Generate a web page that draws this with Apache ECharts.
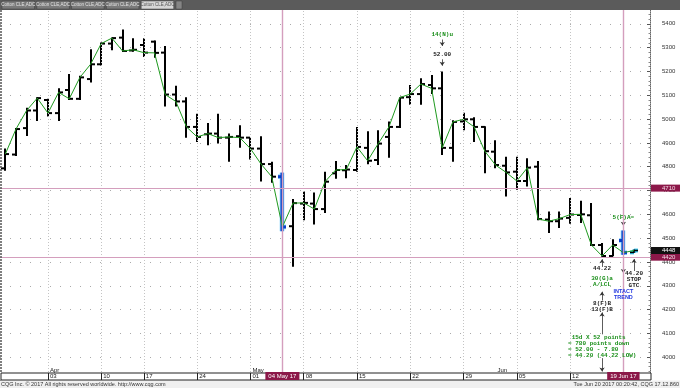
<!DOCTYPE html>
<html><head><meta charset="utf-8">
<script src="https://cdn.jsdelivr.net/npm/echarts@6/dist/echarts.min.js"></script>
<style>html,body{margin:0;padding:0;background:#fff}#c{width:680px;height:388px}</style>
</head><body><div id="c"></div>
<script>
const categories = ['Mar 28','Mar 29','Mar 30','Mar 31','Apr 03','Apr 04','Apr 05','Apr 06','Apr 07','Apr 10','Apr 11','Apr 12','Apr 13','Apr 17','Apr 18','Apr 19','Apr 20','Apr 21','Apr 24','Apr 25','Apr 26','Apr 27','Apr 28','May 01','May 02','May 03','May 04','May 05','May 08','May 09','May 10','May 11','May 12','May 15','May 16','May 17','May 18','May 19','May 22','May 23','May 24','May 25','May 26','May 29','May 30','May 31','Jun 01','Jun 02','Jun 05','Jun 06','Jun 07','Jun 08','Jun 09','Jun 12','Jun 13','Jun 14','Jun 15','Jun 16','Jun 19','Jun 20','Jun 21'];
const opens  = [4793,4851,4962,5036,5080,5025,5122,5085,5168,5230,5317,5342,5288,5311,5325,5279,5103,5074,4967,4936,4939,4922,4928,4922,4876,4811,4758,4550,4645,4645,4622,4772,4785,4786,4879,4828,4925,4967,5092,5105,5143,5129,4879,4990,4999,4967,4863,4804,4779,4740,4800,4578,4571,4585,4597,4596,4471,4425,4490,4440];
const highs  = [4876,4962,5047,5092,5085,5129,5189,5182,5293,5321,5342,5376,5339,5339,5330,5307,5140,5092,5022,4983,5022,4939,4974,4925,4928,4821,4775,4664,4696,4692,4779,4824,4807,4967,4949,4953,4990,5092,5143,5171,5185,5200,4995,5026,5008,4970,4911,4842,4842,4835,4824,4612,4612,4668,4657,4647,4480,4495,4532,4452];
const lows   = [4783,4845,4929,4992,5011,4992,5080,5080,5154,5225,5289,5282,5283,5261,5258,5053,5053,4922,4904,4890,4897,4821,4880,4830,4738,4733,4529,4380,4575,4557,4605,4749,4751,4779,4810,4807,4838,4962,5060,5060,5105,4849,4821,4953,4904,4772,4793,4675,4703,4717,4575,4522,4543,4560,4564,4467,4422,4424,4430,4438];
const closes = [4853,4958,5036,5088,5025,5112,5085,5175,5230,5317,5340,5286,5291,5279,5278,5103,5074,4967,4925,4939,4922,4925,4922,4876,4811,4758,4547,4647,4648,4622,4737,4786,4788,4883,4825,4897,4967,5090,5105,5147,5129,4879,4988,4999,4967,4865,4807,4776,4740,4796,4580,4571,4582,4599,4600,4471,4425,4471,4439,4448];
const yTicks = [4000,4100,4200,4300,4400,4500,4600,4700,4800,4900,5000,5100,5200,5300,5400];
const weekStartIdx = [4,9,13,18,23,28,33,38,43,48,53,58];
const weekLabels = ['03','10','17','24','01','08','15','22','29','05','12','19'];
const monthIdx = [4,23,46];
const monthLabels = ['Apr','May','Jun'];
const highlightIdx = [26,58];
const highlightLabels = ['04 May 17','19 Jun 17'];
const levelLines = [4710,4420];
const lastPrice = 4448;
const tabLabels = ['Cotton CLE,ADC','Cotton CLE,ADC','Cotton CLE,ADC','Cotton CLE,ADC','Cotton CLE,ADC'];

const GREEN = '#1b8f1b', MAROON = '#8c1849', PINK = '#d49ebd';
const MONO = '"Liberation Mono","DejaVu Sans Mono",monospace';
const SANS = '"Liberation Sans",Arial,sans-serif';

const ohlcData = opens.map((o,i)=>[i,o,highs[i],lows[i],closes[i]]);

function renderOhlc(params, api){
  const i = api.value(0);
  const pO = api.coord([i, api.value(1)]);
  const pH = api.coord([i, api.value(2)]);
  const pL = api.coord([i, api.value(3)]);
  const pC = api.coord([i, api.value(4)]);
  const x = Math.round(pH[0]);
  const w = 4;
  const segs = [[[x,pH[1]],[x,pL[1]]],[[x-w,pO[1]],[x,pO[1]]],[[x,pC[1]],[x+w,pC[1]]]];
  let color = '#000', lw = 2, outline = null, olw = 0;
  if (highlightIdx.indexOf(i) >= 0) { color = '#0a40c8'; lw = 3; outline = '#86d8ff'; olw = 4.6; }
  else if (i === opens.length-1) { color = '#000'; lw = 1.5; outline = '#33c4ee'; olw = 3.8; }
  const children = [];
  if (outline) segs.forEach(s=>children.push({type:'polyline',shape:{points:s},style:{stroke:outline,lineWidth:olw,fill:null}}));
  segs.forEach(s=>children.push({type:'polyline',shape:{points:s},style:{stroke:color,lineWidth:lw,fill:null}}));
  return {type:'group', children};
}

function ann(text, idx, v, color, extra){
  return Object.assign({coord:[idx,v], symbolSize:0, label:{show:true, position:'inside', formatter:text, color:color, fontSize:6, lineHeight:6, fontFamily:MONO, fontWeight:'bold'}}, extra||{});
}
const annotations = [
  ann('14(N)u',41,5357,GREEN),
  ann('52.00',41,5270,'#222'),
  ann('5(F)A=',58,4587,GREEN),
  ann('44.22',56,4373,'#222'),
  ann('30(G)a\nA/LCL',56,4319,GREEN),
  ann('44.20\nSTOP\nGTC',59,4325,'#222'),
  {coord:[58,4263], symbolSize:0, label:{show:true, position:'inside', formatter:'INTACT\nTREND', color:'#2237e0', fontSize:5.5, lineHeight:6, fontFamily:SANS, fontWeight:'bold'}},
  ann('8(F)B\n13(F)B',56,4215,'#222'),
  {coord:[56,4043], symbolSize:0, label:{show:true, position:'inside', align:'left', offset:[-34,0], formatter:' 15d X 52 points\n= 780 points down\n= 52.00 - 7.80\n= 44.20 (44.22 LOW)', color:GREEN, fontSize:6, lineHeight:6, fontFamily:MONO, fontWeight:'bold'}}
];
function arrow(idx, v1, v2){ return [{coord:[idx,v1]},{coord:[idx,v2]}]; }
const arrows = [
  arrow(41,5334,5307), arrow(41,5251,5224), arrow(58,4571,4552),
  arrow(56,4379,4411), arrow(58,4392,4354), arrow(59,4362,4412),
  arrow(56,4238,4275), arrow(56,4096,4188), arrow(56,3996,3940)
];

const levelMarks = levelLines.map(v=>({yAxis:v, lineStyle:{color:PINK,width:1,type:'solid'},
  label:{show:true, position:'end', distance:1, formatter:String(v), backgroundColor:MAROON, color:'#f4dbe6', fontSize:6, fontFamily:SANS, padding:[1,5,0,11]}}));
levelMarks.push({yAxis:lastPrice, lineStyle:{color:'rgba(0,0,0,0)', width:0},
  label:{show:true, position:'end', distance:1, formatter:String(lastPrice), backgroundColor:'#111', color:'#fff', fontSize:6, fontFamily:SANS, padding:[1,5,0,11]}});
const weekMarks = weekStartIdx.filter(i=>highlightIdx.indexOf(i)<0).map(i=>({xAxis:i, lineStyle:{color:'#c4c4c4',width:1,type:[1,2]}}));
const hlMarks = highlightIdx.map(i=>({xAxis:i, lineStyle:{color:PINK,width:1.4,type:'solid'}}));

function stripLabel(val, idx){
  const w = weekStartIdx.indexOf(idx), m = monthIdx.indexOf(idx);
  if (highlightIdx.indexOf(idx) >= 0) return '';
  if (w < 0 && m < 0) return '';
  return (m >= 0 ? monthLabels[m] : ' ') + '\n' + (w >= 0 ? weekLabels[w] : ' ');
}

const graphics = [
  {type:'rect', z:20, shape:{x:0,y:0,width:680,height:10}, style:{fill:'#5b5b5b'}}
];
tabLabels.forEach((t,k)=>{
  graphics.push({type:'rect', z:21, shape:{x:2+k*34.8, y:1, width:32.5, height:8}, style:{fill: k===4?'#d6d6d6':'#7a7a7a', stroke:'#3e3e3e', lineWidth:0.5}});
  graphics.push({type:'text', z:22, style:{x:18.2+k*34.8, y:5, text:t, fill: k===4?'#555':'#e4e4e4', font:'4.5px '+SANS, textAlign:'center', textVerticalAlign:'middle'}});
});
graphics.push(
  {type:'rect', z:21, shape:{x:176,y:1,width:6,height:8}, style:{fill:'#858585', stroke:'#3e3e3e', lineWidth:0.5}},
  {type:'line', z:6, shape:{x1:1,y1:10,x2:1,y2:373}, style:{stroke:'#555', lineWidth:1.5, lineDash:[2,1]}},
  {type:'rect', z:8, shape:{x:1,y:373,width:650,height:7}, style:{fill:'#fff', stroke:'#222', lineWidth:1}},
  {type:'rect', z:20, shape:{x:0,y:380.5,width:680,height:8}, style:{fill:'#f0f0f0'}},
  {type:'text', z:21, style:{x:1, y:384.5, text:'CQG Inc. \u00a9 2017 All rights reserved worldwide. http://www.cqg.com', fill:'#333', font:'5.5px '+SANS, textVerticalAlign:'middle'}},
  {type:'text', z:21, style:{x:679, y:384.5, text:'Tue Jun 20 2017 00:20:42, CQG 17.12.860', fill:'#333', font:'5.5px '+SANS, textAlign:'right', textVerticalAlign:'middle'}}
);

const chart = echarts.init(document.getElementById('c'), null, {renderer:'canvas'});
chart.setOption({
  animation:false,
  backgroundColor:'#fff',
  grid:[
    {left:-2, right:30, top:-3, bottom:7},
    {left:-2, right:30, top:373, height:7},
    {left:-2, right:30, top:373, height:7}
  ],
  xAxis:[
    {type:'category', gridIndex:0, data:categories, boundaryGap:true, axisLine:{show:false}, axisTick:{show:false}, axisLabel:{show:false}, splitLine:{show:false}},
    {type:'category', gridIndex:1, data:categories, boundaryGap:true, z:12,
      axisLine:{show:true, lineStyle:{color:'#222',width:1}},
      axisTick:{show:true, inside:true, length:7, alignWithLabel:true, interval:(i)=>weekStartIdx.indexOf(i)>=0, lineStyle:{color:'#222'}},
      axisLabel:{show:true, inside:true, interval:0, margin:1, align:'left', padding:[0,0,0,2], fontSize:6, lineHeight:6, color:'#222', fontFamily:SANS, formatter:stripLabel},
      splitLine:{show:false}},
    {type:'category', gridIndex:2, data:categories, boundaryGap:true, z:13,
      axisLine:{show:false}, axisTick:{show:false}, splitLine:{show:false},
      axisLabel:{show:true, inside:true, interval:0, margin:0, align:'center', fontSize:6, color:'#fff', fontFamily:SANS,
        formatter:(v,idx)=>{const k=highlightIdx.indexOf(idx); return k>=0?'{b|'+highlightLabels[k]+'}':'';},
        rich:{b:{backgroundColor:MAROON, color:'#fff', fontSize:6, padding:[1,3,1,3], fontFamily:SANS}}}}
  ],
  yAxis:[
    {type:'value', gridIndex:0, position:'right', min:3900, max:5500, interval:100,
      axisLine:{show:true, lineStyle:{color:'#666', type:[1,1]}},
      axisTick:{show:true, inside:true, length:3, lineStyle:{color:'#555'}},
      minorTick:{show:true, splitNumber:5, length:1.5, lineStyle:{color:'#888'}},
      axisLabel:{margin:12, fontSize:6, color:'#333', fontFamily:SANS, formatter:(v)=>yTicks.indexOf(v)>=0?String(v):''},
      splitLine:{show:true, lineStyle:{color:'#aaa', type:[1,9]}}},
    {type:'value', gridIndex:1, show:false},
    {type:'value', gridIndex:2, show:false}
  ],
  series:[
    {type:'custom', name:'OHLC', xAxisIndex:0, yAxisIndex:0, data:ohlcData, renderItem:renderOhlc, z:2,
      markLine:{silent:true, symbol:['none','arrow'], symbolSize:[4,4], label:{show:false}, lineStyle:{color:'#333',width:0.8,type:'solid'}, data:arrows}},
    {type:'line', name:'Close', xAxisIndex:0, yAxisIndex:0, data:closes, symbol:'none', z:3,
      lineStyle:{color:'#1f9a1f', width:1},
      markLine:{silent:true, symbol:'none', label:{show:false}, data:[].concat(weekMarks, hlMarks, levelMarks)},
      markPoint:{silent:true, data:annotations}}
  ],
  graphic:graphics
});
</script></body></html>
